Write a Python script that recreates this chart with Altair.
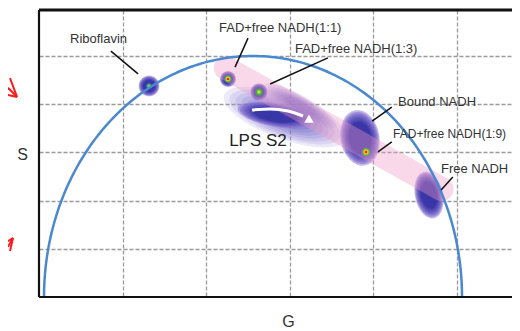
import altair as alt
import pandas as pd
import numpy as np

# ---- axis extents (phasor coordinates) ----
G_MAX = 1.1316
S_MAX = 0.5954
grid_g = [0.2, 0.4, 0.6, 0.8, 1.0]
grid_s = [0.1, 0.2, 0.3, 0.4, 0.5]

# ---- universal semicircle (slightly offset as in figure) ----
circ_center = 0.512
circ_radius = 0.5

# ---- labelled species: phasor positions ----
lab_names = ["Riboflavin", "FAD+free NADH(1:1)", "FAD+free NADH(1:3)",
             "Bound NADH", "FAD+free NADH(1:9)", "Free NADH"]
lab_g = [0.0742, 0.4306, 0.6124, 0.8589, 0.8470, 0.9617]
lab_s = [0.5353, 0.5581, 0.5145, 0.4046, 0.3382, 0.2656]
lab_fs = [13, 13, 13, 13, 12, 13]

# leader lines (from label to cluster)
lead_g1 = [0.172, 0.500, 0.691, 0.844, 0.844, 0.990]
lead_s1 = [0.510, 0.537, 0.496, 0.394, 0.322, 0.249]
lead_g2 = [0.237, 0.469, 0.553, 0.797, 0.811, 0.962]
lead_s2 = [0.463, 0.477, 0.442, 0.365, 0.301, 0.222]

# ---- diffuse clusters: centre (G, S), core width/height px, tilt, dense? ----
clu_g = [0.5885, 0.6244, 0.2632, 0.4522, 0.5263, 0.5646, 0.7679, 0.9330]
clu_s = [0.3734, 0.3963, 0.4378, 0.4523, 0.4253, 0.3776, 0.3300, 0.2116]
clu_w = [100, 64, 17, 13, 14, 62, 32, 23]
clu_h = [34, 16, 17, 13, 14, 19, 46, 39]
clu_a = [20, 30, 0, 0, 0, 10, -10, -12]
clu_dark = [0, 0, 1, 1, 1, 1, 1, 1]

# ---- bright centre spots (G, S, diameter px, colour) ----
spot_g = [0.2632, 0.2632, 0.4522, 0.4522, 0.4522, 0.5263, 0.5263,
          0.7823, 0.7823, 0.7823]
spot_s = [0.4378, 0.4378, 0.4523, 0.4523, 0.4523, 0.4253, 0.4253,
          0.3008, 0.3008, 0.3008]
spot_d = [6, 3.5, 8, 5.5, 3, 8, 4, 9, 6, 3]
spot_c = ["#2f8f9a", "#8ed04a", "#3cb050", "#f0d020", "#e03020",
          "#40b040", "#d8d830", "#5ab050", "#f0c020", "#e04020"]

# ---- pink mixing band ----
band_g = [0.447, 0.963]
band_s = [0.475, 0.224]

# ---- white trajectory arrow ----
arr_g = [0.5096, 0.5526, 0.5957, 0.6316]
arr_s = [0.3880, 0.3900, 0.3859, 0.3755]
head_g = [0.6459]
head_s = [0.3672]

# ---- red arrow fragments at left edge ----
red_g1 = [-0.0526, -0.0526, -0.0526, -0.0622, -0.0622, -0.0622]
red_s1 = [0.415, 0.415, 0.415, 0.1224, 0.1224, 0.1224]
red_g2 = [-0.0694, -0.0742, -0.0742, -0.0742, -0.0742, -0.0694]
red_s2 = [0.454, 0.434, 0.419, 0.116, 0.104, 0.0954]

FONT = "Liberation Sans"

xs = alt.Scale(domain=[0, G_MAX], nice=False, zero=False)
ys = alt.Scale(domain=[0, S_MAX], nice=False, zero=False)
xaxis = alt.Axis(values=grid_g, grid=True, gridDash=[4, 2], gridColor="#9a9a9a",
                 gridWidth=1.3, labels=False, ticks=False, domain=False,
                 title="G", titleX=249, titleY=24, titleAlign="center",
                 titleBaseline="middle", titleFontSize=16, titleFontWeight="normal",
                 titleColor="#333333", titleFont=FONT, titleAngle=0)
yaxis = alt.Axis(values=grid_s, grid=True, gridDash=[4, 2], gridColor="#9a9a9a",
                 gridWidth=1.3, labels=False, ticks=False, domain=False,
                 title="S", titleX=-17, titleY=144, titleAlign="center",
                 titleBaseline="middle", titleFontSize=16, titleFontWeight="normal",
                 titleColor="#333333", titleFont=FONT, titleAngle=0)


def X(f="G"):
    return alt.X(f + ":Q", scale=xs, axis=xaxis)


def Y(f="S"):
    return alt.Y(f + ":Q", scale=ys, axis=yaxis)


def ell_path(w, h, n=32):
    s = max(w, h)
    a, b = w / s, h / s
    pts = []
    for k in range(n):
        t = 2 * np.pi * k / n
        pts.append(f"{a*np.cos(t):.4f} {b*np.sin(t):.4f}")
    return "M " + " L ".join(pts) + " Z"


def mix(c1, c2, t):
    a = [int(c1[i:i + 2], 16) for i in (1, 3, 5)]
    b = [int(c2[i:i + 2], 16) for i in (1, 3, 5)]
    return "#" + "".join(f"{int(round(x + (y - x) * t)):02x}" for x, y in zip(a, b))


# soft gradient built from stacked translucent ellipses
N_DARK = 8
dark_scale = np.linspace(1.22, 0.7, N_DARK)
dark_col = [mix("#8a74d4", "#2c2ca0", t) for t in np.linspace(0, 1, N_DARK)]
dark_op = 0.5
N_LIGHT = 7
light_scale = np.linspace(1.3, 0.55, N_LIGHT)
light_col = [mix("#a092dc", "#5e52c0", t) for t in np.linspace(0, 1, N_LIGHT)]
light_op = 0.2

rows = []
k = 0
for i in range(len(clu_g)):
    if clu_dark[i]:
        sc, cols, op = dark_scale, dark_col, dark_op
    else:
        sc, cols, op = light_scale, light_col, light_op
    for f, c in zip(sc, cols):
        w, h = clu_w[i] * f, clu_h[i] * f
        rows.append({"G": clu_g[i], "S": clu_s[i], "shape": ell_path(w, h),
                     "size": max(w, h) ** 2, "ang": clu_a[i], "col": c, "op": op,
                     "ord": k})
        k += 1
cl = pd.DataFrame(rows)

sp = pd.DataFrame({"G": spot_g, "S": spot_s, "d": spot_d, "col": spot_c})
sp["size"] = sp.d ** 2 * np.pi / 4
sp["ord"] = range(len(sp))

blobs = alt.Chart(cl).mark_point(filled=True, strokeWidth=0).encode(
    x=X(), y=Y(),
    shape=alt.Shape("shape:N", scale=None),
    size=alt.Size("size:Q", scale=None),
    angle=alt.Angle("ang:Q", scale=None),
    color=alt.Color("col:N", scale=None),
    opacity=alt.Opacity("op:Q", scale=None),
    order=alt.Order("ord:Q"),
)

spots = alt.Chart(sp).mark_point(filled=True, strokeWidth=0, opacity=1, shape="circle").encode(
    x=X(), y=Y(),
    size=alt.Size("size:Q", scale=None),
    color=alt.Color("col:N", scale=None),
    order=alt.Order("ord:Q"),
)

band = alt.Chart(pd.DataFrame({"G": band_g, "S": band_s, "i": [0, 1]})).mark_line(
    strokeWidth=24, strokeCap="round", color="#ee9cc4", opacity=0.38
).encode(x=X(), y=Y(), order="i:Q")

th = np.linspace(np.pi, 0, 181)
circ = pd.DataFrame({"G": circ_center + circ_radius * np.cos(th),
                     "S": circ_radius * np.sin(th), "i": range(181)})
semi = alt.Chart(circ).mark_line(color="#4a88d0", strokeWidth=2.5).encode(
    x=X(), y=Y(), order="i:Q")

arrow = alt.Chart(pd.DataFrame({"G": arr_g, "S": arr_s, "i": range(4)})).mark_line(
    color="white", strokeWidth=3, interpolate="monotone"
).encode(x=X(), y=Y(), order="i:Q")
head = alt.Chart(pd.DataFrame({"G": head_g, "S": head_s})).mark_point(
    shape="triangle", filled=True, color="white", opacity=1, size=90, angle=120, strokeWidth=0
).encode(x=X(), y=Y())

leaders = alt.Chart(pd.DataFrame({"G": lead_g1, "S": lead_s1, "G2": lead_g2, "S2": lead_s2})).mark_rule(
    color="#111111", strokeWidth=1.5
).encode(x=X(), y=Y(), x2="G2:Q", y2="S2:Q")

labels = alt.Chart(pd.DataFrame({"G": lab_g, "S": lab_s, "t": lab_names, "fs": lab_fs})).mark_text(
    align="left", baseline="middle", font=FONT, color="#333333"
).encode(x=X(), y=Y(), text="t:N", size=alt.Size("fs:Q", scale=None))

lps = alt.Chart(pd.DataFrame({"G": [0.5239], "S": [0.3237], "t": ["LPS S2"]})).mark_text(
    align="center", baseline="middle", font=FONT, fontSize=17, color="#222222"
).encode(x=X(), y=Y(), text="t:N")

frame = alt.Chart(pd.DataFrame({
    "G": [0.0, 0.0, 0.0], "G2": [0.0, G_MAX, G_MAX],
    "S": [0.0, S_MAX, 0.0], "S2": [S_MAX, S_MAX, 0.0],
    "sw": [2.2, 3.2, 2.2]})).mark_rule(color="#111111").encode(
    x=X(), y=Y(), x2="G2:Q", y2="S2:Q", strokeWidth=alt.StrokeWidth("sw:Q", scale=None))

red = alt.Chart(pd.DataFrame({"G": red_g1, "S": red_s1, "G2": red_g2, "S2": red_s2})).mark_rule(
    color="#ff1a1a", strokeWidth=2
).encode(x=X(), y=Y(), x2="G2:Q", y2="S2:Q")

chart = alt.layer(
    blobs, band, spots, semi, arrow, head, leaders, labels, lps, frame, red
).properties(
    width=473, height=287, autosize="none",
    padding={"left": 31, "top": 2, "right": 0, "bottom": 34},
    background="white",
).configure_view(stroke=None)

chart.save("out.html", embed_options={"renderer": "svg", "actions": False})
